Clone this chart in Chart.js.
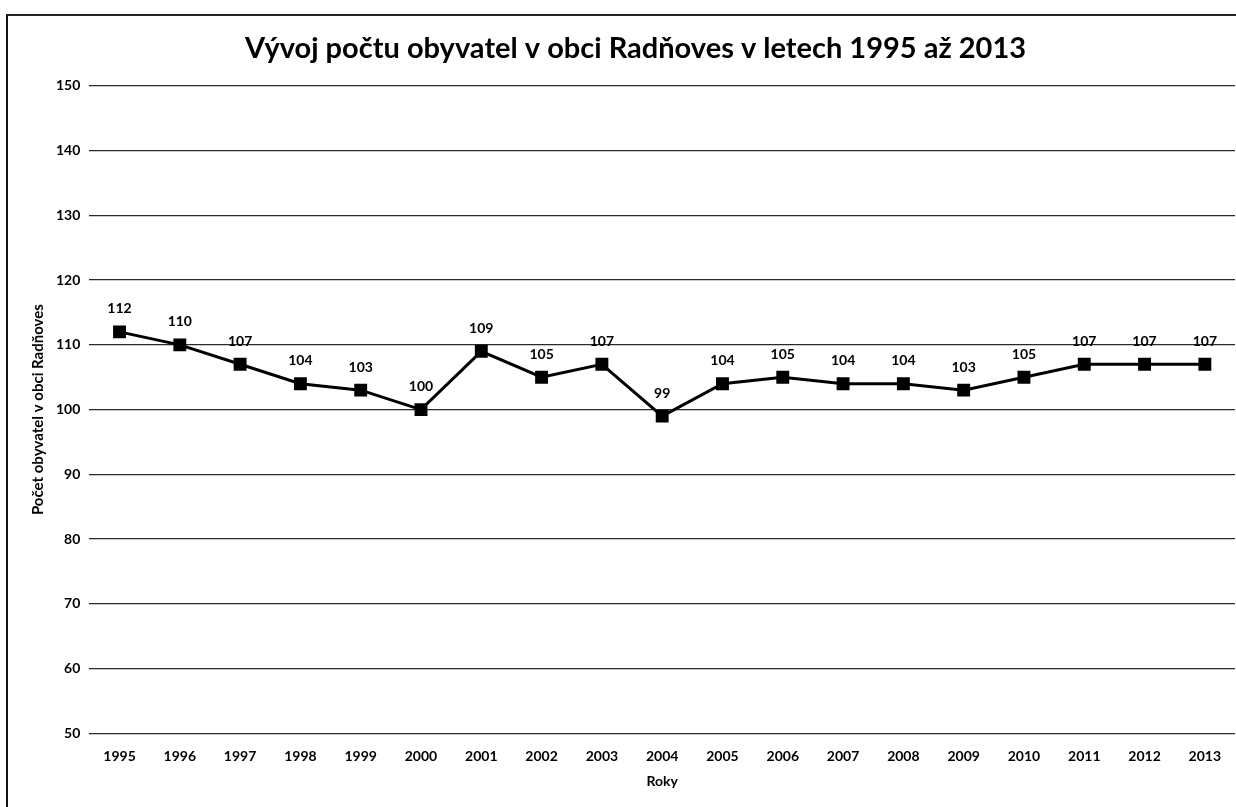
<!DOCTYPE html>
<html>
<head>
<meta charset="utf-8">
<script src="https://cdn.jsdelivr.net/npm/chart.js@4/dist/chart.umd.min.js"></script>
<style>
  html, body { margin: 0; padding: 0; background: #fff; overflow: hidden; }
  #wrap { position: relative; width: 1236px; height: 807px; overflow: hidden; }
  #chart { position: absolute; left: 0; top: 0; }
  #frame { position: absolute; left: 6px; top: 14px; right: 0; bottom: 0; border-left: 2px solid #111; border-top: 2px solid #222; pointer-events: none; }
</style>
</head>
<body>
<div id="wrap">
  <canvas id="chart" width="1245" height="807"></canvas>
  <div id="frame"></div>
</div>
<script>
  var YEARS = ['1995', '1996', '1997', '1998', '1999', '2000', '2001', '2002', '2003', '2004',
               '2005', '2006', '2007', '2008', '2009', '2010', '2011', '2012', '2013'];
  var POPULATION = [112, 110, 107, 104, 103, 100, 109, 105, 107, 99,
                    104, 105, 104, 104, 103, 105, 107, 107, 107];
  var Y_MIN = 50;
  var Y_MAX = 150;
  var Y_STEP = 10;

  var TITLE = 'Vývoj počtu obyvatel v obci Radňoves v letech 1995 až 2013';
  var Y_TITLE = 'Počet obyvatel v obci Radňoves';
  var X_TITLE = 'Roky';
  var FONT = 'Lato, "Open Sans", "DejaVu Sans", sans-serif';

  // value labels above each point (no datalabels plugin available offline)
  var valueLabels = {
    id: 'valueLabels',
    afterDatasetsDraw: function (chart) {
      var ctx = chart.ctx;
      var meta = chart.getDatasetMeta(0);
      ctx.save();
      ctx.font = 'bold 14px ' + FONT;
      ctx.fillStyle = '#000';
      ctx.textAlign = 'center';
      ctx.textBaseline = 'middle';
      meta.data.forEach(function (pt, i) {
        ctx.fillText(String(POPULATION[i]), pt.x, pt.y - 23);
      });
      ctx.restore();
    }
  };

  new Chart(document.getElementById('chart').getContext('2d'), {
    type: 'line',
    data: {
      labels: YEARS,
      datasets: [{
        data: POPULATION,
        borderColor: '#000',
        backgroundColor: '#000',
        borderWidth: 3,
        tension: 0,
        pointStyle: 'rect',
        pointRadius: 7,
        pointHoverRadius: 7,
        pointBackgroundColor: '#000',
        pointBorderColor: '#000'
      }]
    },
    options: {
      responsive: false,
      animation: false,
      layout: { padding: { left: 29, right: 3, top: 10, bottom: 17 } },
      plugins: {
        legend: { display: false },
        tooltip: { enabled: false },
        title: {
          display: true,
          text: TITLE,
          color: '#000',
          font: { family: FONT, size: 29, weight: 'bold' },
          padding: { top: 21, bottom: 20 }
        }
      },
      scales: {
        x: {
          offset: true,
          grid: { display: false, drawTicks: false },
          border: { display: false },
          ticks: { color: '#000', font: { family: FONT, size: 14, weight: 'bold' }, padding: 15, maxRotation: 0 },
          title: { display: true, text: X_TITLE, color: '#000', font: { family: FONT, size: 14, weight: 'bold' }, padding: { top: -7, bottom: 0 } }
        },
        y: {
          min: Y_MIN,
          max: Y_MAX,
          ticks: { stepSize: Y_STEP, color: '#000', font: { family: FONT, size: 14, weight: 'bold' }, padding: 9 },
          grid: { color: '#2a2a2a', lineWidth: 1.3, drawTicks: false },
          border: { display: false },
          title: { display: true, text: Y_TITLE, color: '#000', font: { family: FONT, size: 15, weight: 'bold' }, padding: { top: 0, bottom: 0 } }
        }
      }
    },
    plugins: [valueLabels]
  });
</script>
</body>
</html>
